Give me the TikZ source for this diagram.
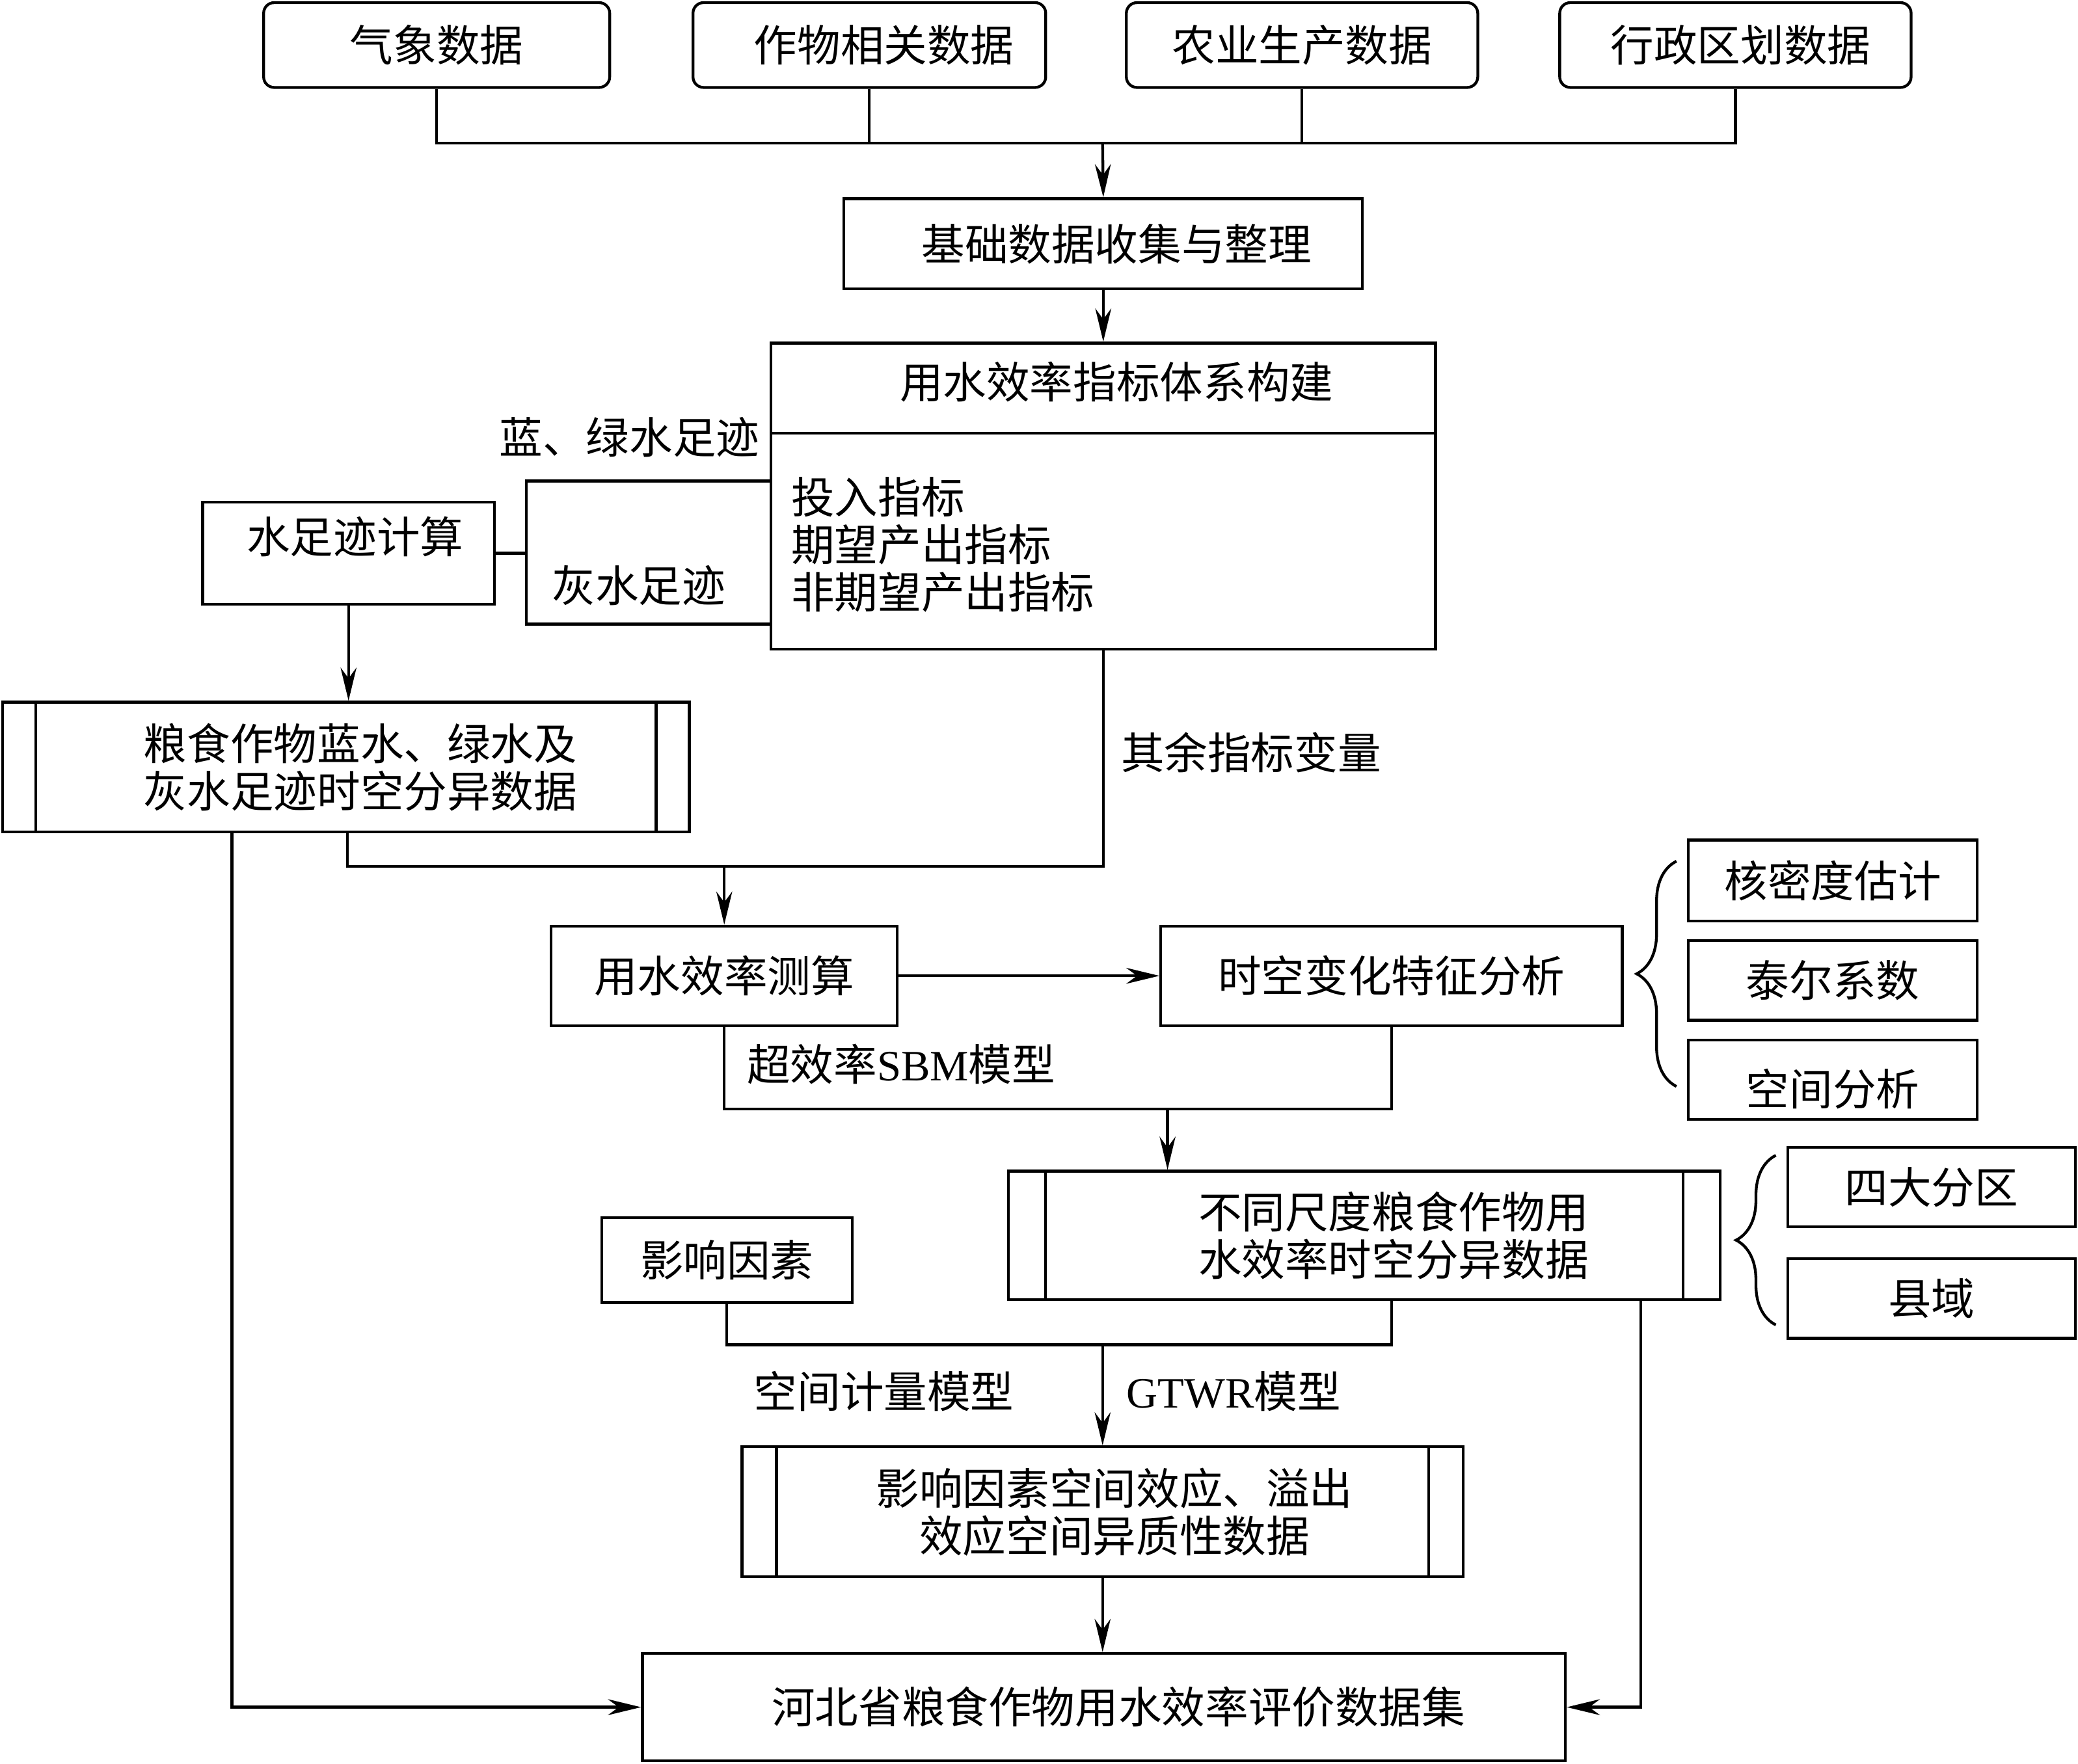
\documentclass[tikz,border=0pt]{standalone}
\usepackage{fontspec}
\setmainfont{Noto Sans CJK SC}
\newfontfamily\lat{Liberation Serif}
\usetikzlibrary{arrows.meta,decorations.pathreplacing}
\tikzset{
  arr/.style={-{Stealth[length=0.25cm,width=0.12cm]}},
  box/.style={draw},
  rbox/.style={draw, rounded corners=0.08cm},
  dbox/.style={draw, path picture={
      \draw ([xshift=#1]path picture bounding box.north west) -- ([xshift=#1]path picture bounding box.south west);
      \draw ([xshift=-#1]path picture bounding box.north east) -- ([xshift=-#1]path picture bounding box.south east);}},
  brc/.style={decorate, decoration={brace, amplitude=0.3cm}}
}
\begin{document}
\begin{tikzpicture}[x=0.01cm, y=-0.01cm, line width=0.6pt,
    every node/.style={font=\fontsize{9.3pt}{10.2pt}\selectfont, inner sep=0pt, align=center}]
  \useasboundingbox (0,0) rectangle (1568,1331);
  \node[rbox, minimum width=2.61cm, minimum height=0.64cm] (qx) at (329.5,34) {气象数据};
  \node[rbox, minimum width=2.66cm, minimum height=0.64cm] (zw) at (656,34) {\hspace*{0.22cm}作物相关数据};
  \node[rbox, minimum width=2.65cm, minimum height=0.64cm] (ny) at (982.5,34) {农业生产数据};
  \node[rbox, minimum width=2.65cm, minimum height=0.64cm] (xz) at (1309.5,34) {\hspace*{0.08cm}行政区划数据};
  \coordinate (jtop) at (832,108);
  \draw (qx.south) |- (jtop);
  \draw (zw.south) |- (jtop);
  \draw (ny.south) |- (jtop);
  \draw (xz.south) |- (jtop);
  \node[box, minimum width=3.91cm, minimum height=0.68cm] (jc) at (832.5,184) {\hspace*{0.2cm}基础数据收集与整理};
  \draw[arr] (jtop) -- (jc.north);
  \node[box, minimum width=5.01cm, minimum height=2.31cm] (zb) at (832.5,374.5) {};
  \node (zbt) at (842.5,288) {用水效率指标体系构建};
  \coordinate (zbd) at (582,327);
  \draw (zbd) -- (zbd -| zb.east);
  \node[align=left, anchor=west] (zbl) at (596,411) {投入指标\\期望产出指标\\非期望产出指标};
  \draw[arr] (jc.south) -- (zb.north);
  \node[box, minimum width=2.2cm, minimum height=0.77cm, text height=0.3cm, text depth=0.3cm] (sz) at (263,417.5) {\hspace*{0.1cm}水足迹计算};
  \coordinate (fk) at (397,417.5);
  \coordinate (lan) at (582,363);
  \coordinate (hui) at (582,471);
  \draw (sz.east) -- (fk);
  \draw (lan) -| (fk) |- (hui);
  \node (lanl) at (475,330) {蓝、绿水足迹};
  \node (huil) at (482,442) {灰水足迹};
  \node[dbox=0.25cm, minimum width=5.18cm, minimum height=0.98cm] (ls) at (261,579) {\hspace*{0.22cm}粮食作物蓝水、绿水及\\\hspace*{0.22cm}灰水足迹时空分异数据};
  \draw[arr] (sz.south) -- (ls.north -| sz.south);
  \node (qyl) at (944,568) {其余指标变量};
  \node[box, minimum width=2.61cm, minimum height=0.75cm] (cs) at (546.5,736.5) {用水效率测算};
  \coordinate (l2) at (262,628);
  \coordinate (m1) at (546.5,654);
  \draw (l2) |- (m1) -| (zb.south);
  \draw[arr] (m1) -- (cs.north);
  \node[box, minimum width=3.48cm, minimum height=0.75cm] (sk) at (1050,736.5) {时空变化特征分析};
  \draw[arr] (cs.east) -- (sk.west);
  \node[box, minimum width=2.18cm, minimum height=0.61cm] (hm) at (1383,664.5) {核密度估计};
  \node[box, minimum width=2.18cm, minimum height=0.6cm] (te) at (1383,740) {泰尔系数};
  \node[box, minimum width=2.18cm, minimum height=0.6cm, text height=0.45cm, text depth=0.06cm] (kj) at (1383,815) {空间分析};
  \coordinate (b1a) at (1265,820);
  \coordinate (b1b) at (1265,650);
  \draw[brc] (b1a) -- (b1b);
  \node (sbml) at (680,803) {超效率{\lat SBM}模型};
  \coordinate (m2) at (881,837);
  \draw (cs.south) |- (m2) -| (sk.south);
  \node[dbox=0.28cm, minimum width=5.37cm, minimum height=0.97cm] (bt) at (1029.5,932.5) {\hspace*{0.44cm}不同尺度粮食作物用\\\hspace*{0.44cm}水效率时空分异数据};
  \draw[arr] (m2) -- (bt.north -| m2);
  \node[box, minimum width=2.17cm, minimum height=0.6cm] (sd) at (1457.5,896) {四大分区};
  \node[box, minimum width=2.17cm, minimum height=0.6cm] (xy) at (1457.5,980) {县域};
  \coordinate (b2a) at (1340,1000);
  \coordinate (b2b) at (1340,872);
  \draw[brc] (b2a) -- (b2b);
  \node[box, minimum width=1.89cm, minimum height=0.64cm] (yx) at (548.5,951) {影响因素};
  \coordinate (m3) at (832,1015);
  \coordinate (b2) at (1050,981);
  \draw (yx.south) |- (m3) -| (b2);
  \node (kjl) at (667,1050) {空间计量模型};
  \node (gtl) at (931,1050) {{\lat GTWR}模型};
  \node[dbox=0.26cm, minimum width=5.44cm, minimum height=0.98cm] (kx) at (832,1141) {\hspace*{0.18cm}影响因素空间效应、溢出\\\hspace*{0.18cm}效应空间异质性数据};
  \draw[arr] (m3) -- (kx.north);
  \node[box, minimum width=6.96cm, minimum height=0.81cm] (hb) at (833,1288.5) {\hspace*{0.22cm}河北省粮食作物用水效率评价数据集};
  \draw[arr] (kx.south) -- (hb.north -| kx.south);
  \coordinate (l1) at (175,628);
  \coordinate (r1) at (1238,981);
  \draw[arr] (l1) |- (hb.west);
  \draw[arr] (r1) |- (hb.east);
\end{tikzpicture}
\end{document}
